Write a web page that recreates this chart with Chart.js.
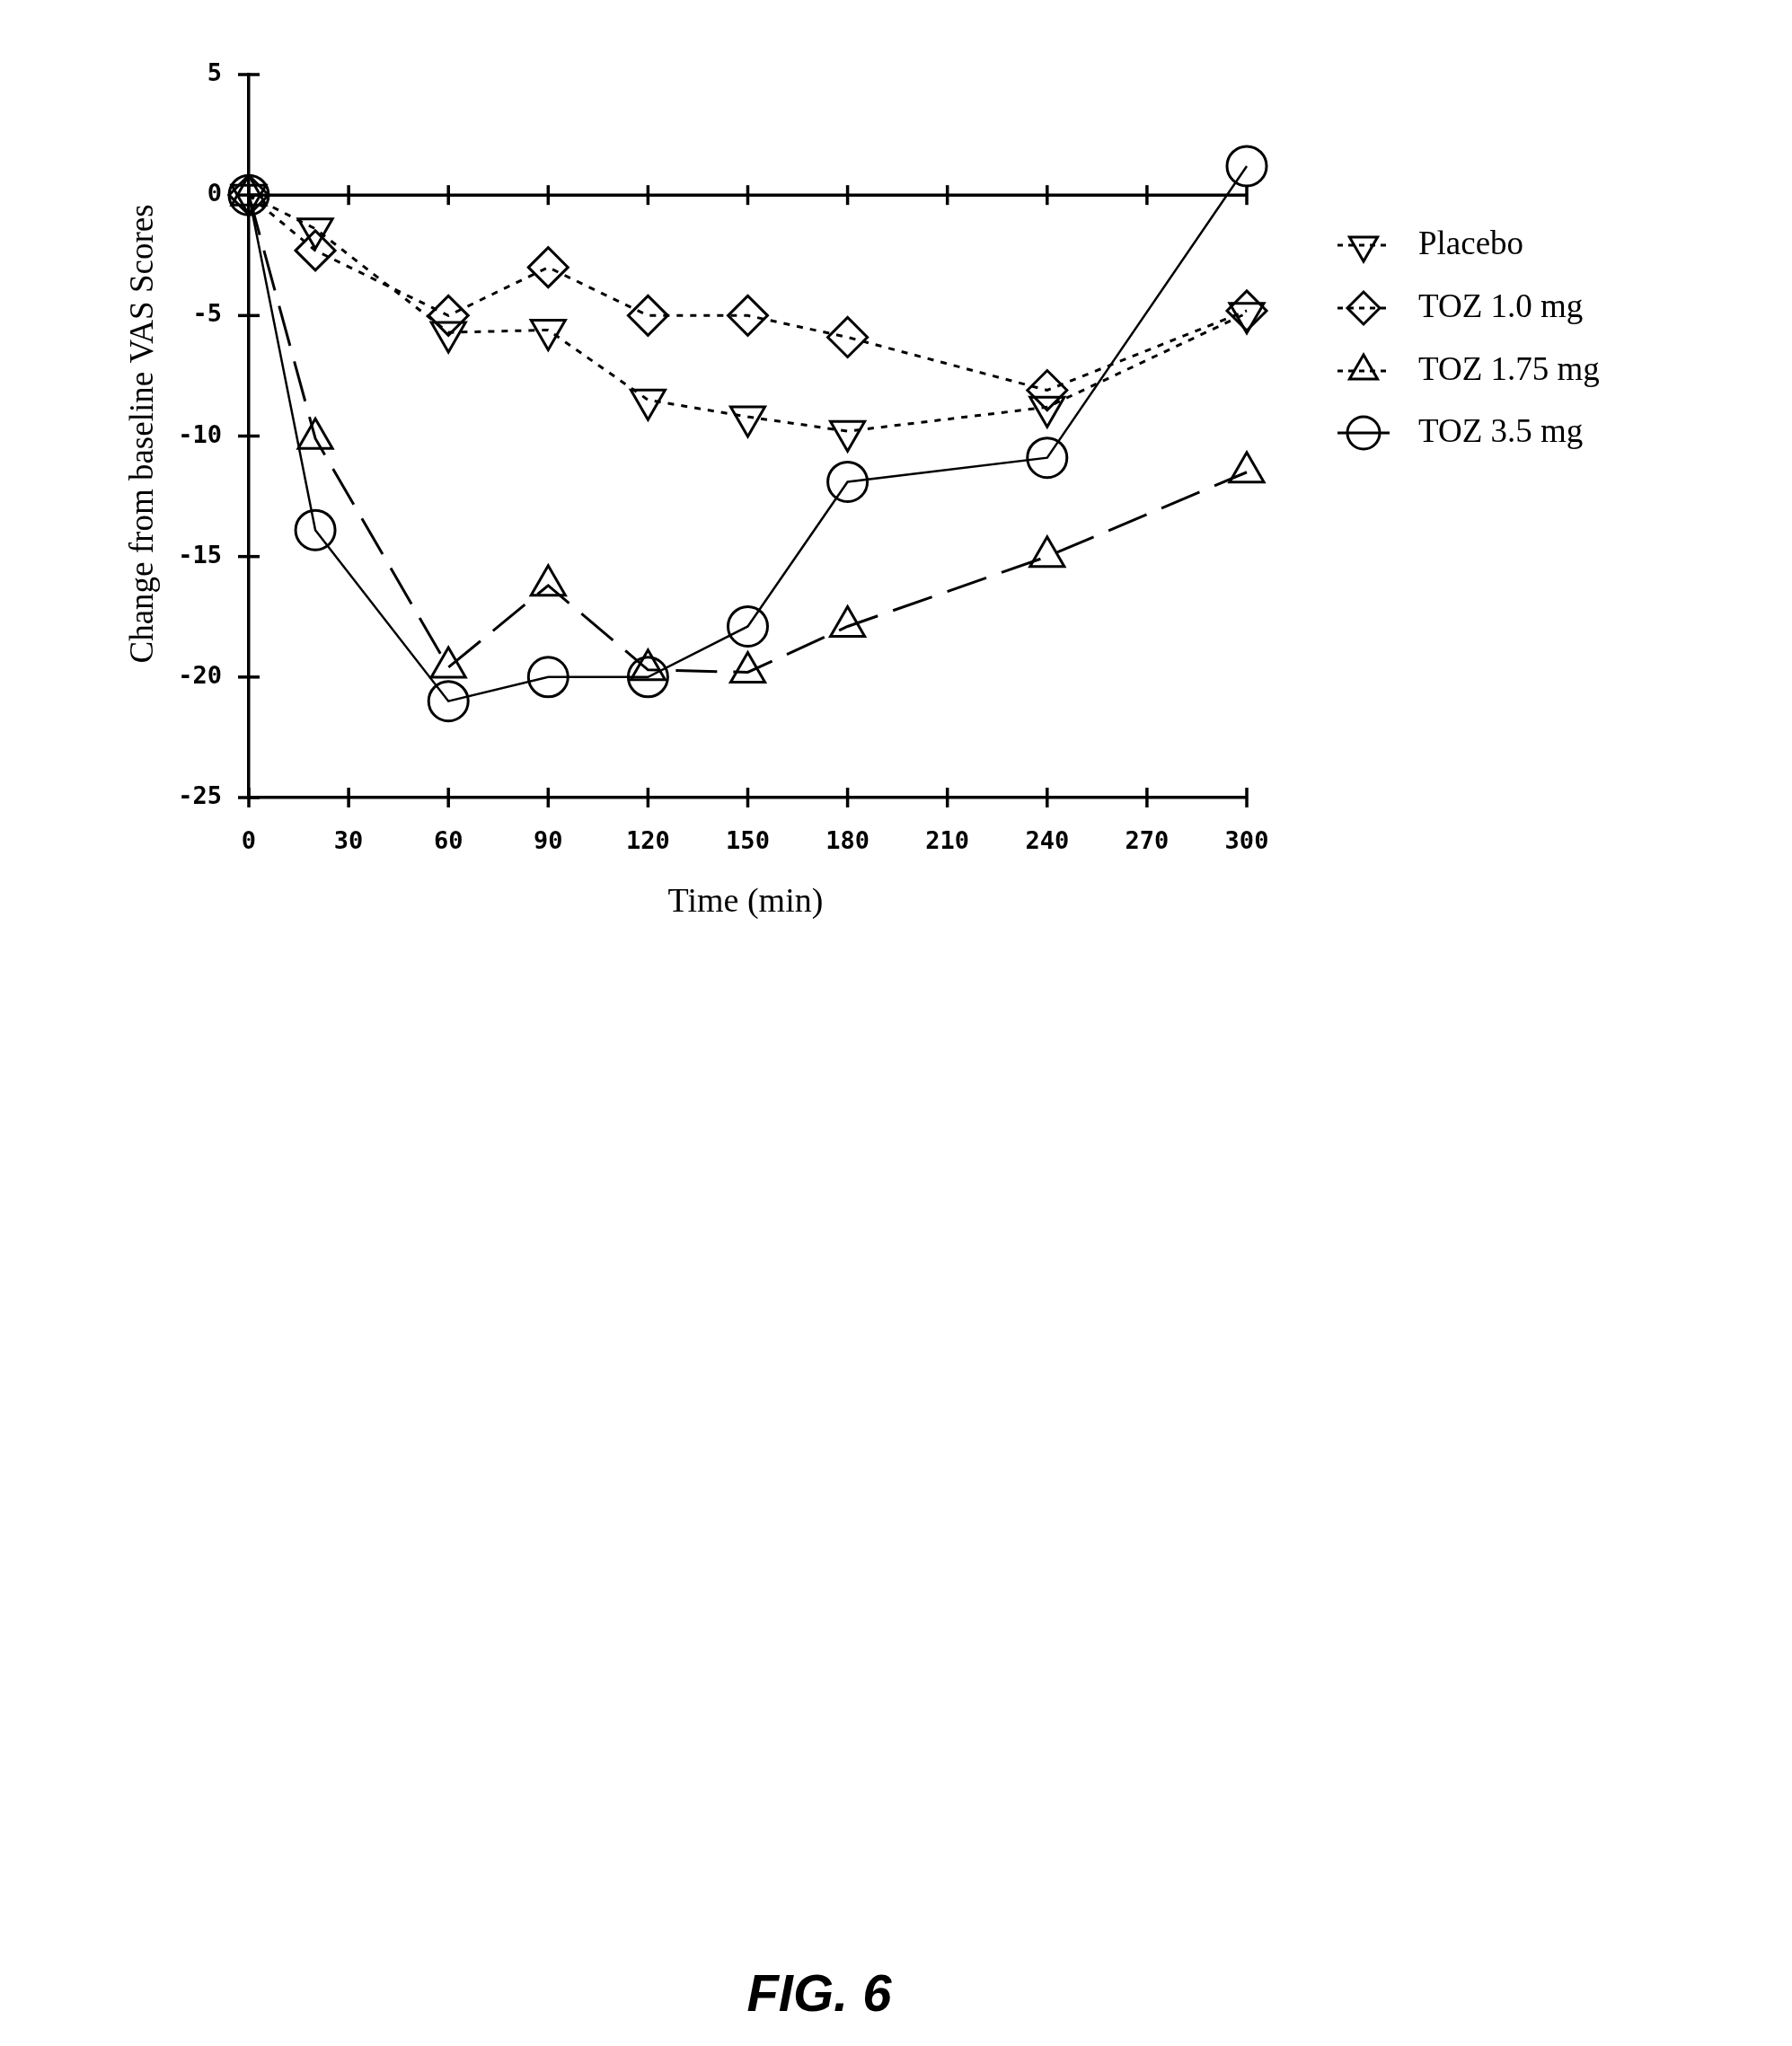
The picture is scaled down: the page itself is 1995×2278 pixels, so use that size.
<!DOCTYPE html>
<html><head><meta charset="utf-8">
<script src="https://cdn.jsdelivr.net/npm/chart.js@4/dist/chart.umd.min.js"></script>
<style>html,body{margin:0;padding:0;background:#fff;}canvas{display:block;}</style>
</head><body>
<canvas id="c" width="1995" height="2278"></canvas>
<script>
// ---- data ----
const times = [0, 20, 60, 90, 120, 150, 180, 240, 300];
const placebo = [0, -1.4, -5.7, -5.6, -8.5, -9.2, -9.8, -8.8, -4.9];
const toz10   = [0, -2.3, -5.0, -3.0, -5.0, -5.0, -5.9, -8.1, -4.8];
const toz175  = [0, -10.1, -19.6, -16.2, -19.7, -19.8, -17.9, -15.0, -11.5];
const toz35   = [0, -13.9, -21.0, -20.0, -20.0, -17.9, -11.9, -10.9, 1.2];
const seriesNames = ['Placebo', 'TOZ 1.0 mg', 'TOZ 1.75 mg', 'TOZ 3.5 mg'];
const xTickValues = [0, 30, 60, 90, 120, 150, 180, 210, 240, 270, 300];
const yTickValues = [5, 0, -5, -10, -15, -20, -25];
const xTitle = 'Time (min)';
const yTitle = 'Change from baseline VAS Scores';
const figLabel = 'FIG. 6';

const toXY = arr => arr.map((v, i) => ({x: times[i], y: v}));
const INK = '#000';

const styles = [
  {pointStyle: 'triangle', rotation: 180, borderDash: [7, 8], borderWidth: 3},
  {pointStyle: 'rectRot', rotation: 0, borderDash: [7, 8], borderWidth: 3},
  {pointStyle: 'triangle', rotation: 0, borderDash: [46, 18], borderWidth: 3},
  {pointStyle: 'circle', rotation: 0, borderDash: [], borderWidth: 2.5}
];
const values = [placebo, toz10, toz175, toz35];

const datasets = values.map((arr, i) => ({
  label: seriesNames[i],
  data: toXY(arr),
  borderColor: INK,
  borderWidth: styles[i].borderWidth,
  borderDash: styles[i].borderDash,
  pointStyle: styles[i].pointStyle,
  rotation: styles[i].rotation,
  pointRadius: 22,
  pointBorderWidth: 3,
  pointBorderColor: INK,
  pointBackgroundColor: 'rgba(0,0,0,0)',
  fill: false,
  tension: 0,
  clip: false
}));

const decor = {
  id: 'decor',
  beforeDatasetsDraw(chart) {
    const ctx = chart.ctx, xs = chart.scales.x, ys = chart.scales.y;
    ctx.save();
    ctx.strokeStyle = INK;
    ctx.lineWidth = 3.5;
    const y0 = ys.getPixelForValue(0), yb = ys.getPixelForValue(-25);
    ctx.beginPath();
    ctx.moveTo(xs.getPixelForValue(0), y0);
    ctx.lineTo(xs.getPixelForValue(300), y0);
    ctx.stroke();
    xTickValues.forEach(v => {
      const px = xs.getPixelForValue(v);
      [y0, yb].forEach(py => {
        ctx.beginPath(); ctx.moveTo(px, py - 11); ctx.lineTo(px, py + 11); ctx.stroke();
      });
    });
    const xl = xs.getPixelForValue(0);
    yTickValues.forEach(v => {
      const py = ys.getPixelForValue(v);
      ctx.beginPath(); ctx.moveTo(xl - 12, py); ctx.lineTo(xl + 12, py); ctx.stroke();
    });
    ctx.restore();
  },
  afterDraw(chart) {
    const ctx = chart.ctx;
    ctx.save();
    ctx.fillStyle = INK;
    ctx.textAlign = 'center'; ctx.textBaseline = 'middle';
    ctx.font = '38px "Liberation Serif", serif';
    ctx.fillText(xTitle, 830, 1005);
    ctx.save();
    ctx.translate(160, 483);
    ctx.rotate(-Math.PI / 2);
    ctx.font = '37px "Liberation Serif", serif';
    ctx.fillText(yTitle, 0, 0);
    ctx.restore();
    const rows = [273, 343, 413, 482];
    chart.data.datasets.forEach((ds, i) => {
      const y = rows[i];
      ctx.save();
      ctx.strokeStyle = INK;
      ctx.lineWidth = 3;
      ctx.setLineDash(ds.borderDash.length ? [6, 6] : []);
      ctx.beginPath(); ctx.moveTo(1489, y); ctx.lineTo(1547, y); ctx.stroke();
      ctx.setLineDash([]);
      ctx.fillStyle = 'rgba(0,0,0,0)';
      Chart.helpers.drawPoint(ctx, {pointStyle: ds.pointStyle, rotation: ds.rotation, radius: 18, borderWidth: 3}, 1518, y);
      ctx.restore();
      ctx.font = '37px "Liberation Serif", serif';
      ctx.textAlign = 'left'; ctx.textBaseline = 'middle';
      ctx.fillStyle = INK;
      ctx.fillText(ds.label, 1579, y);
    });
    ctx.font = 'italic bold 58px "Liberation Sans", Arial, sans-serif';
    ctx.textAlign = 'center'; ctx.textBaseline = 'middle';
    ctx.fillText(figLabel, 912, 2223);
    ctx.restore();
  }
};

new Chart(document.getElementById('c'), {
  type: 'line',
  data: {datasets},
  options: {
    responsive: false,
    animation: false,
    devicePixelRatio: 1,
    layout: {padding: {left: 0, top: 83, right: 607, bottom: 1290}},
    plugins: {legend: {display: false}, tooltip: {enabled: false}},
    scales: {
      x: {
        type: 'linear', min: 0, max: 300,
        afterBuildTicks: s => { s.ticks = xTickValues.map(v => ({value: v})); },
        afterFit: s => { s.height = 100; },
        grid: {display: false, drawTicks: false},
        border: {display: true, color: INK, width: 3.5},
        ticks: {color: INK, padding: 34, font: {family: '"DejaVu Sans Mono", monospace', size: 27, weight: 'bold'}, maxRotation: 0, autoSkip: false}
      },
      y: {
        type: 'linear', min: -25, max: 5,
        afterBuildTicks: s => { s.ticks = yTickValues.map(v => ({value: v})); },
        afterFit: s => { s.width = 277; },
        grid: {display: false, drawTicks: false},
        border: {display: true, color: INK, width: 3.5},
        ticks: {color: INK, padding: 30, font: {family: '"DejaVu Sans Mono", monospace', size: 27, weight: 'bold'}, autoSkip: false}
      }
    }
  },
  plugins: [decor]
});
</script>
</body></html>
